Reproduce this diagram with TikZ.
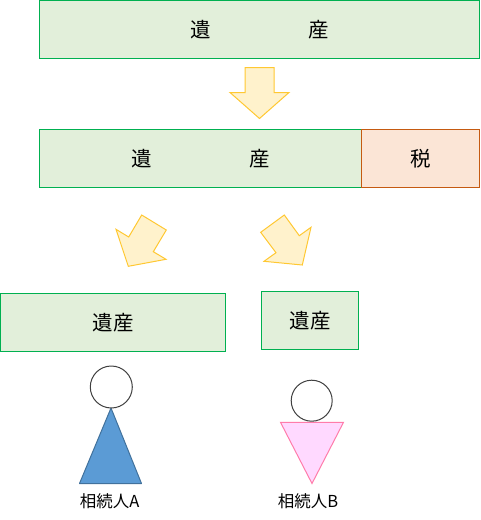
\documentclass[tikz,border=0pt]{standalone}
\usepackage{fontspec}
\setmainfont{Noto Sans CJK JP}
\definecolor{LeafGreen} {RGB}{0,   176, 80}
\definecolor{PaleGreen} {RGB}{226, 239, 218}
\definecolor{RustBrown} {RGB}{197, 90,  17}
\definecolor{PaleOrange}{RGB}{251, 229, 214}
\definecolor{Amber}     {RGB}{255, 200, 50}
\definecolor{PaleAmber} {RGB}{255, 242, 204}
\definecolor{SteelBlue} {RGB}{91,  155, 213}
\definecolor{DarkSteel} {RGB}{65,  113, 156}
\definecolor{PalePink}  {RGB}{255, 217, 255}
\definecolor{RosePink}  {RGB}{255, 124, 170}
\definecolor{HeadGray}  {RGB}{64,  64,  64}
\tikzset{
  estatebox/.style={draw=LeafGreen, fill=PaleGreen, line width=1pt, inner sep=0pt, outer sep=0pt, font=\fontsize{20.5}{24}\selectfont},
  taxbox/.style={draw=RustBrown, fill=PaleOrange, line width=1pt, inner sep=0pt, outer sep=0pt, font=\fontsize{20.5}{24}\selectfont},
  flowarrow/.style={draw=Amber, fill=PaleAmber, line width=1pt, line join=miter},
  head/.style={circle, draw=HeadGray, fill=white, line width=1pt, inner sep=0pt},
  heirlabel/.style={inner sep=0pt, font=\fontsize{16.5}{20}\selectfont}
}
\begin{document}
\begin{tikzpicture}[x=1pt, y=-1pt]
  \useasboundingbox (0,0) rectangle (480,520);

  \node[estatebox, minimum width=440, minimum height=58] (estate) at (259.5,29.5) {遺\hspace{97.5pt}産};
  \draw[flowarrow] (245,67.5) -- (274,67.5) -- (274,92.5) -- (289,92.5) -- (259.5,118.5) -- (230,92.5) -- (245,92.5) -- cycle;

  \node[estatebox, minimum width=322, minimum height=58] (net) at (200.5,158.5) {遺\hspace{97.5pt}産};
  \node[taxbox, minimum width=118, minimum height=58, anchor=west] (tax) at (net.east) {税};

  \draw[flowarrow] (141.7,215) -- (166.3,230) -- (153.3,251.7) -- (166,259.3) -- (128.3,266.3) -- (116,229.3) -- (128.7,237) -- cycle;
  \draw[flowarrow] (284.3,215) -- (299.3,235.7) -- (311,227.3) -- (302.3,265) -- (264,261.3) -- (276,252.7) -- (260.7,232.3) -- cycle;

  \node[estatebox, minimum width=225, minimum height=58] (shareA) at (113,322.5) {遺産};
  \node[estatebox, minimum width=97, minimum height=58] (shareB) at (310,320.5) {遺産};

  \draw[draw=DarkSteel, fill=SteelBlue, line width=1pt, line join=round] (111,408) -- (141.5,483.5) -- (79.5,483.5) -- cycle;
  \node[head, minimum size=42] (headA) at (111.3,387) {};
  \draw[draw=RosePink, fill=PalePink, line width=1pt] (280.5,422.3) -- (343.5,422.3) -- (312,483.5) -- cycle;
  \node[head, minimum size=41] (headB) at (311.7,400.7) {};

  \node[heirlabel] (heirA) at (109.7,501) {相続人A};
  \node[heirlabel] (heirB) at (308,501) {相続人B};
\end{tikzpicture}
\end{document}
